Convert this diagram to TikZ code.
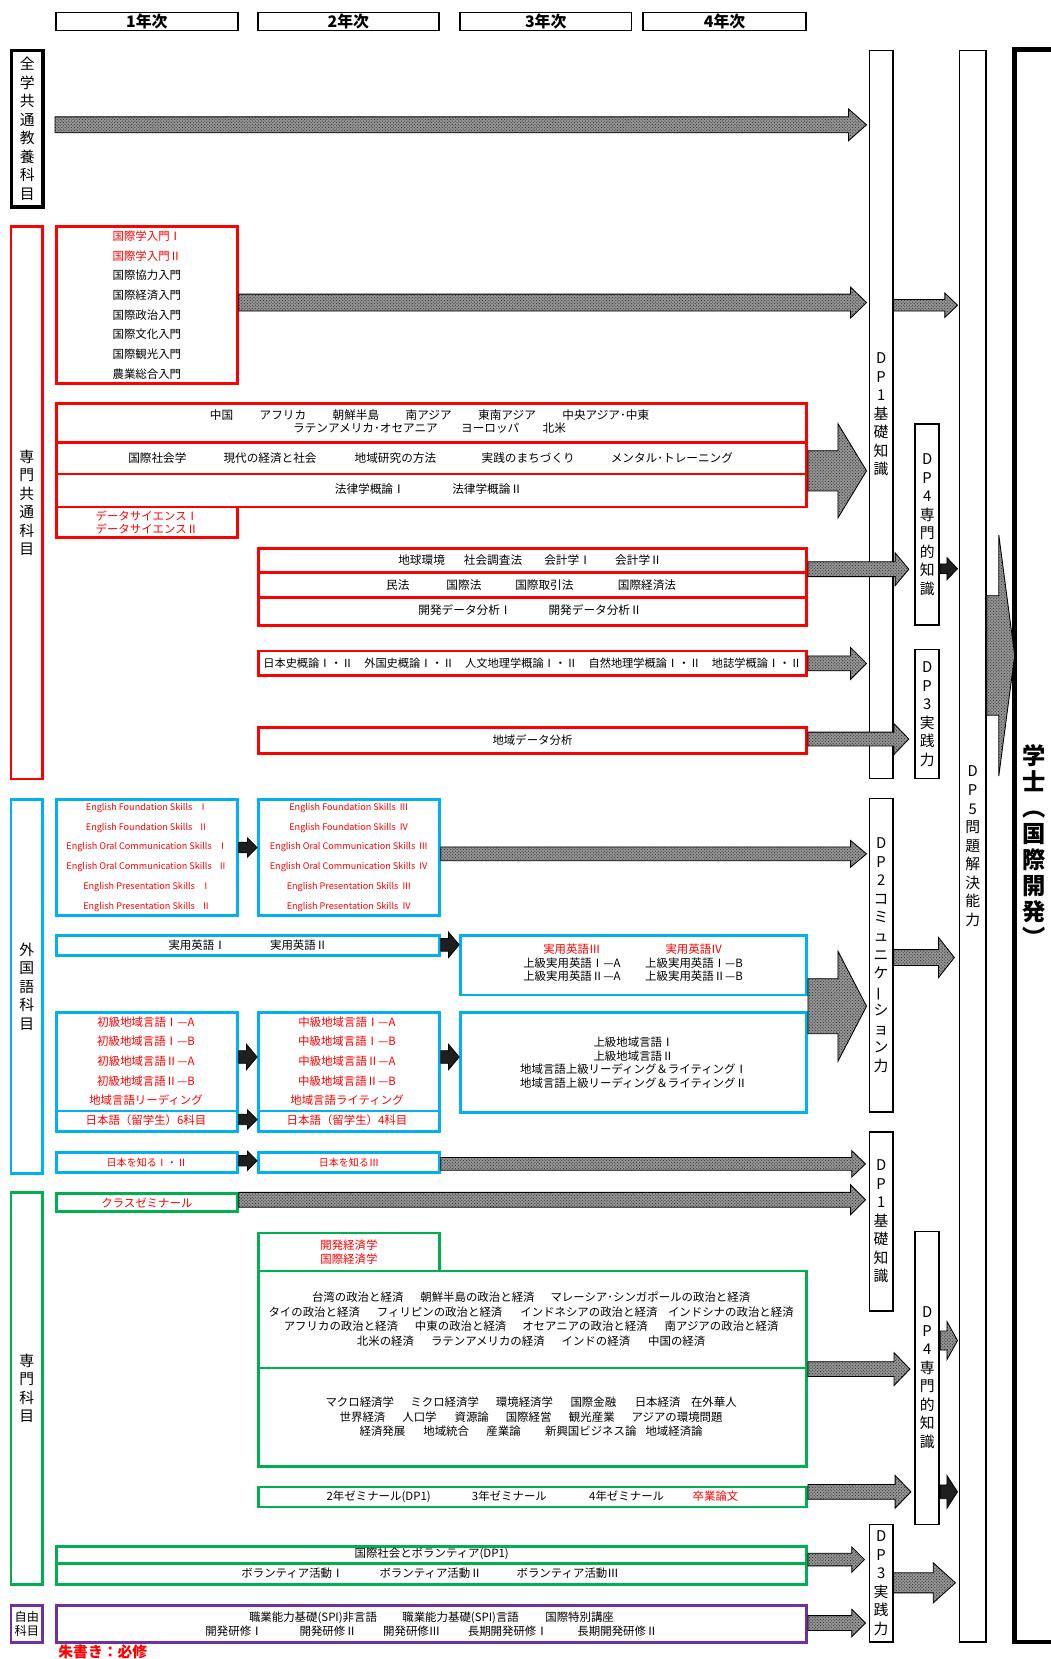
\documentclass[tikz,border=0pt]{standalone}
\usepackage{fontspec}
\usepackage{graphicx}
\setmainfont{Noto Sans CJK JP}
\usetikzlibrary{calc,patterns}
\definecolor{jred}{RGB}{255,0,0}
\definecolor{jcyan}{RGB}{0,176,240}
\definecolor{jgreen}{RGB}{0,176,80}
\definecolor{jpurple}{RGB}{112,48,160}
\newcommand\fs[2]{\fontsize{#1}{#2}\selectfont}
\newcommand\bx[7]{\node[#1,anchor=north west,minimum width={(#4-#2)*1pt},minimum height={(#5-#3)*1pt}] (#6) at (#2,#3) {#7};}
\newcommand\barrow[6][hatch]{\draw[#1] let \p1=#2, \p2=#3 in (\x1,{\y1+#4}) -- ({\x2-#6},{\y1+#4}) -- ({\x2-#6},{\y1+#5}) -- (\x2,\y1) -- ({\x2-#6},{\y1-#5}) -- ({\x2-#6},{\y1-#4}) -- (\x1,{\y1-#4}) -- cycle;}
\begin{document}
\begin{tikzpicture}[x=1pt,y=-1pt,
 yearbox/.style={draw,line width=1.6pt,inner sep=0pt,font={\bfseries\fs{15}{15}}},
 cat/.style={draw=#1,line width=2.6pt,inner sep=0pt,align=center,font={\fs{14}{17.5}}},
 cbox/.style={draw=#1,line width=2.6pt,inner sep=0pt,align=center,font={\fs{10.8}{13}}},
 dp/.style={draw,line width=1.6pt,fill=white,inner sep=0pt,align=center,font={\fs{14}{17.5}}},
 sepline/.style={draw=#1,line width=2.6pt},
 txt/.style={inner sep=0pt,align=center,font={\fs{10.8}{13}}},
 hatch/.style={draw=black,line width=0.8pt,preaction={fill=black!42},pattern=crosshatch dots,pattern color=black!85},
 blk/.style={draw=black,line width=0.7pt,fill=black!88}]
\fill[white] (0,0) rectangle (993,1568);
\useasboundingbox (0,0) rectangle (993,1568);

% year headers
\bx{yearbox}{52}{11}{224}{28}{yr1}{1年次}
\bx{yearbox}{243}{11}{414}{28}{yr2}{2年次}
\bx{yearbox}{434}{11}{596}{28}{yr3}{3年次}
\bx{yearbox}{607}{11}{761}{28}{yr4}{4年次}

% categories
\bx{cat=black,line width=3.4pt}{9}{46}{39}{194}{c1}{全\\学\\共\\通\\教\\養\\科\\目}
\bx{cat=jred}{9}{213}{39}{735}{c2}{専\\門\\共\\通\\科\\目}
\bx{cat=jcyan}{9}{754}{39}{1108}{c3}{外\\国\\語\\科\\目}
\bx{cat=jgreen}{9}{1126}{39}{1496}{c4}{専\\門\\科\\目}
\bx{cat=jpurple,font={\fs{11.5}{14}}}{9}{1516}{39}{1551}{c5}{自由\\科目}

% DP columns
\bx{dp}{821}{47}{843}{735}{dp1t}{D\\P\\1\\基\\礎\\知\\識}
\bx{dp}{864}{400}{887}{590}{dp4t}{D\\P\\4\\専\\門\\的\\知\\識}
\bx{dp}{864}{613}{887}{735}{dp3t}{D\\P\\3\\実\\践\\力}
\bx{dp}{906}{47}{931}{1551}{dp5}{D\\P\\5\\問\\題\\解\\決\\能\\力}
\bx{dp}{821}{754}{843}{1050}{dp2}{D\\P\\2\\コ\\ミ\\ュ\\ニ\\ケ\\\rotatebox[origin=c]{90}{ー}\\シ\\ョ\\ン\\力}
\bx{dp}{821}{1069}{843}{1238}{dp1b}{D\\P\\1\\基\\礎\\知\\識}
\bx{dp}{864}{1163}{887}{1440}{dp4b}{D\\P\\4\\専\\門\\的\\知\\識}
\bx{dp}{821}{1440}{843}{1551}{dp3b}{D\\P\\3\\実\\践\\力}

% degree box
\draw[line width=4.5pt] (1000,47) -- (959,47) -- (959,1552) -- (1000,1552);
\coordinate (gkl) at (959,619.5);
\node[inner sep=0pt,align=center,font={\bfseries\fs{22}{24.5}}] (gk) at (977,799) {学\\士\\︵\\国\\際\\開\\発\\︶};

% red group
\bx{cbox=jred,font={\fs{10.8}{18.6}}}{52}{213}{223}{361}{r1}{\textcolor{jred}{国際学入門Ⅰ}\\\textcolor{jred}{国際学入門Ⅱ}\\国際協力入門\\国際経済入門\\国際政治入門\\国際文化入門\\国際観光入門\\農業総合入門}
\bx{cbox=jred}{52}{380}{761}{478}{r2}{}
\draw[sepline=jred] (r2.west |- 0,418) -- (r2.east |- 0,418);
\draw[sepline=jred] (r2.west |- 0,448) -- (r2.east |- 0,448);
\node[txt,font={\fs{11}{13}}] (r2a) at (406,398.5) {中国\hspace{25pt}アフリカ\hspace{25pt}朝鮮半島\hspace{25pt}南アジア\hspace{25pt}東南アジア\hspace{25pt}中央アジア･中東\\ラテンアメリカ･オセアニア\hspace{22pt}ヨーロッパ\hspace{22pt}北米};
\node[txt,font={\fs{11}{13}}] (r2b) at (407,433) {国際社会学\hspace{35pt}現代の経済と社会\hspace{36pt}地域研究の方法\hspace{43pt}実践のまちづくり\hspace{34pt}メンタル･トレーニング};
\node[txt,font={\fs{11}{13}}] (r2c) at (405,462) {法律学概論Ⅰ\hspace{45pt}法律学概論Ⅱ};
\bx{cbox=jred,text=jred}{52}{478}{223}{507}{ds}{データサイエンスⅠ\\データサイエンスⅡ}
\bx{cbox=jred}{243}{517}{761}{590}{r3}{}
\draw[sepline=jred] (r3.west |- 0,541) -- (r3.east |- 0,541);
\draw[sepline=jred] (r3.west |- 0,565) -- (r3.east |- 0,565);
\node[txt,font={\fs{11}{13}}] (r3a) at (501,529) {地球環境\hspace{18pt}社会調査法\hspace{21pt}会計学Ⅰ\hspace{23pt}会計学Ⅱ};
\node[txt,font={\fs{11}{13}}] (r3b) at (502,553) {民法\hspace{35pt}国際法\hspace{32pt}国際取引法\hspace{42pt}国際経済法};
\node[txt,font={\fs{11}{13}}] (r3c) at (501,577) {開発データ分析Ⅰ\hspace{35pt}開発データ分析Ⅱ};
\bx{cbox=jred,font={\fs{10.6}{13}}}{243}{614}{761}{637}{r4}{日本史概論Ⅰ・Ⅱ　外国史概論Ⅰ・Ⅱ　人文地理学概論Ⅰ・Ⅱ　自然地理学概論Ⅰ・Ⅱ　地誌学概論Ⅰ・Ⅱ}
\bx{cbox=jred}{243}{686}{761}{711}{r5}{地域データ分析}

% cyan group
\bx{cbox=jcyan,font={\fs{8.6}{18.6}},text=jred}{52}{754}{223}{864}{e1}{English Foundation Skills\hspace{0.7em}Ⅰ\\English Foundation Skills\hspace{0.7em}Ⅱ\\English Oral Communication Skills\hspace{0.7em}Ⅰ\\English Oral Communication Skills\hspace{0.7em}Ⅱ\\English Presentation Skills\hspace{0.7em}Ⅰ\\English Presentation Skills\hspace{0.7em}Ⅱ}
\bx{cbox=jcyan,font={\fs{8.6}{18.6}},text=jred}{243}{754}{414}{864}{e2}{English Foundation Skills\hspace{0.4em}Ⅲ\\English Foundation Skills\hspace{0.4em}Ⅳ\\English Oral Communication Skills\hspace{0.4em}Ⅲ\\English Oral Communication Skills\hspace{0.4em}Ⅳ\\English Presentation Skills\hspace{0.4em}Ⅲ\\English Presentation Skills\hspace{0.4em}Ⅳ}
\bx{cbox=jcyan}{52}{883}{414}{902}{e3}{実用英語Ⅰ\hspace{42pt}実用英語Ⅱ}
\bx{cbox=jcyan}{434}{883}{761}{939}{e4}{}
\node[txt] (e4a) at (540.5,910) {\textcolor{jred}{実用英語Ⅲ}\\上級実用英語Ⅰ—A\\上級実用英語Ⅱ—A};
\node[txt] (e4b) at (656,910) {\textcolor{jred}{実用英語Ⅳ}\\上級実用英語Ⅰ—B\\上級実用英語Ⅱ—B};
\bx{cbox=jcyan}{52}{956}{223}{1068}{l1}{}
\draw[sepline=jcyan] (l1.west |- 0,1050) -- (l1.east |- 0,1050);
\node[txt,font={\fs{10.8}{18.5}},text=jred] (l1a) at (138,1003) {初級地域言語Ⅰ—A\\初級地域言語Ⅰ—B\\初級地域言語Ⅱ—A\\初級地域言語Ⅱ—B\\地域言語リーディング};
\node[txt,text=jred] (l1b) at (138,1059) {日本語（留学生）6科目};
\bx{cbox=jcyan}{243}{956}{414}{1068}{l2}{}
\draw[sepline=jcyan] (l2.west |- 0,1050) -- (l2.east |- 0,1050);
\node[txt,font={\fs{10.8}{18.5}},text=jred] (l2a) at (328,1003) {中級地域言語Ⅰ—A\\中級地域言語Ⅰ—B\\中級地域言語Ⅱ—A\\中級地域言語Ⅱ—B\\地域言語ライティング};
\node[txt,text=jred] (l2b) at (328,1059) {日本語（留学生）4科目};
\bx{cbox=jcyan}{434}{956}{761}{1050}{l3}{上級地域言語Ⅰ\\上級地域言語Ⅱ\\地域言語上級リーディング＆ライティングⅠ\\地域言語上級リーディング＆ライティングⅡ}
\bx{cbox=jcyan,font={\fs{9.5}{11}},text=jred}{52}{1088}{223}{1107}{j1}{日本を知るⅠ・Ⅱ}
\bx{cbox=jcyan,font={\fs{9.5}{11}},text=jred}{243}{1088}{414}{1107}{j2}{日本を知るⅢ}

% green group
\bx{cbox=jgreen,text=jred}{52}{1127}{223}{1144}{gz}{クラスゼミナール}
\bx{cbox=jgreen,text=jred}{243}{1164}{414}{1200}{ge}{開発経済学\\国際経済学}
\bx{cbox=jgreen}{243}{1200}{761}{1385}{gb}{}
\draw[sepline=jgreen] (gb.west |- 0,1293) -- (gb.east |- 0,1293);
\node[txt,font={\fs{10.8}{13.7}}] (gba) at (502,1247) {台湾の政治と経済\hspace{16pt}朝鮮半島の政治と経済\hspace{15pt}マレーシア･シンガポールの政治と経済\\タイの政治と経済\hspace{16pt}フィリピンの政治と経済\hspace{17pt}インドネシアの政治と経済\hspace{10pt}インドシナの政治と経済\\アフリカの政治と経済\hspace{16pt}中東の政治と経済\hspace{15pt}オセアニアの政治と経済\hspace{16pt}南アジアの政治と経済\\北米の経済\hspace{16pt}ラテンアメリカの経済\hspace{16pt}インドの経済\hspace{17pt}中国の経済};
\node[txt,font={\fs{10.8}{14}}] (gbb) at (502,1339) {マクロ経済学\hspace{15.5pt}ミクロ経済学\hspace{16pt}環境経済学\hspace{16.5pt}国際金融\hspace{17.5pt}日本経済\hspace{10pt}在外華人\\世界経済\hspace{16pt}人口学\hspace{17pt}資源論\hspace{16pt}国際経営\hspace{16.5pt}観光産業\hspace{16pt}アジアの環境問題\\経済発展\hspace{17pt}地域統合\hspace{16.5pt}産業論\hspace{23pt}新興国ビジネス論\hspace{8.5pt}地域経済論};
\bx{cbox=jgreen}{243}{1404}{761}{1423}{gs}{2年ゼミナール(DP1)\hspace{39pt}3年ゼミナール\hspace{40pt}4年ゼミナール\hspace{27pt}\textcolor{jred}{卒業論文}}
\bx{cbox=jgreen}{52}{1460}{761}{1496}{gv}{}
\draw[sepline=jgreen] (gv.west |- 0,1478) -- (gv.east |- 0,1478);
\node[txt] (gva) at (408,1469) {国際社会とボランティア(DP1)};
\node[txt] (gvb) at (406.5,1487) {ボランティア活動Ⅰ\hspace{34pt}ボランティア活動Ⅱ\hspace{33pt}ボランティア活動Ⅲ};

% purple group
\bx{cbox=jpurple}{52}{1516}{761}{1551}{pb}{職業能力基礎(SPI)非言語\hspace{24pt}職業能力基礎(SPI)言語\hspace{25pt}国際特別講座\\開発研修Ⅰ\hspace{35pt}開発研修Ⅱ\hspace{25pt}開発研修Ⅲ\hspace{26pt}長期開発研修Ⅰ\hspace{28pt}長期開発研修Ⅱ}
\node[anchor=west,inner sep=0pt,text=jred,font={\bfseries\fs{14}{14}}] (note) at (55,1561) {朱書き：必修};

% arrows
\barrow{(yr1.west |- 0,118)}{([xshift=-2pt]dp1t.west)}{7.5pt}{15pt}{17pt}
\barrow{(r1.east |- 0,286)}{([xshift=-2pt]dp1t.west)}{8pt}{14.5pt}{15pt}
\barrow{(dp1t.east |- 0,288.5)}{([xshift=-1pt]dp5.west)}{5.5pt}{11.5pt}{12pt}
\barrow{(r2.east |- 0,445)}{([xshift=-2pt]dp1t.west)}{19pt}{44.5pt}{27pt}
\barrow{(r3.east |- 0,538)}{([xshift=-5pt]dp4t.west)}{7pt}{15.5pt}{13pt}
\barrow[blk]{(dp4t.east |- 0,537.5)}{([xshift=-1pt]dp5.west)}{4.5pt}{10.5pt}{10pt}
\barrow{(r4.east |- 0,627)}{([xshift=-2pt]dp1t.west)}{7pt}{15pt}{15pt}
\barrow{(r5.east |- 0,698.5)}{([xshift=-5pt]dp3t.west)}{6.5pt}{14.5pt}{14pt}
\barrow{(dp5.east |- 0,619.5)}{(gkl)}{56.5pt}{114pt}{15pt}
\barrow{(e2.east |- 0,807)}{([xshift=-2pt]dp2.west)}{6.5pt}{12.5pt}{15pt}
\barrow[blk]{(e1.east |- 0,801)}{(e2.west)}{5pt}{9pt}{9pt}
\barrow[blk]{(e3.east |- 0,893)}{(e4.west)}{6pt}{12pt}{10pt}
\barrow[blk]{(l1.east |- 0,999)}{(l2.west)}{6pt}{12pt}{10pt}
\barrow[blk]{(l2.east |- 0,999)}{(l3.west)}{6pt}{12pt}{10pt}
\barrow[blk]{(l1.east |- 0,1058)}{(l2.west)}{5pt}{9pt}{9pt}
\barrow[blk]{(j1.east |- 0,1097)}{(j2.west)}{5pt}{9pt}{9pt}
\barrow{(e4.east |- 0,951)}{([xshift=-2pt]dp2.west)}{26pt}{52pt}{27pt}
\barrow{(dp2.east |- 0,905)}{([xshift=-4pt]dp5.west)}{7.5pt}{19pt}{15pt}
\barrow{(j2.east |- 0,1100)}{([xshift=-3pt]dp1b.west)}{6pt}{12.5pt}{13pt}
\barrow{(gz.east |- 0,1134)}{([xshift=-3pt]dp1b.west)}{7pt}{14pt}{14pt}
\barrow{(gb.east |- 0,1294)}{([xshift=-4pt]dp4b.west)}{7pt}{15.5pt}{15pt}
\barrow{(gs.east |- 0,1410)}{([xshift=-3pt]dp4b.west)}{7pt}{15.5pt}{15pt}
\barrow{(dp4b.east |- 0,1267)}{([xshift=-1pt]dp5.west)}{9pt}{18pt}{10pt}
\barrow[blk]{(dp4b.east |- 0,1410)}{([xshift=-1pt]dp5.west)}{6.5pt}{15.5pt}{10pt}
\barrow{(gv.east |- 0,1474)}{([xshift=-4pt]dp3b.west)}{6pt}{12pt}{12pt}
\barrow{(pb.east |- 0,1534)}{([xshift=-3pt]dp3b.west)}{7pt}{13pt}{13pt}
\barrow{(dp3b.east |- 0,1496)}{([xshift=-3pt]dp5.west)}{9.5pt}{19pt}{21pt}
\end{tikzpicture}
\end{document}
